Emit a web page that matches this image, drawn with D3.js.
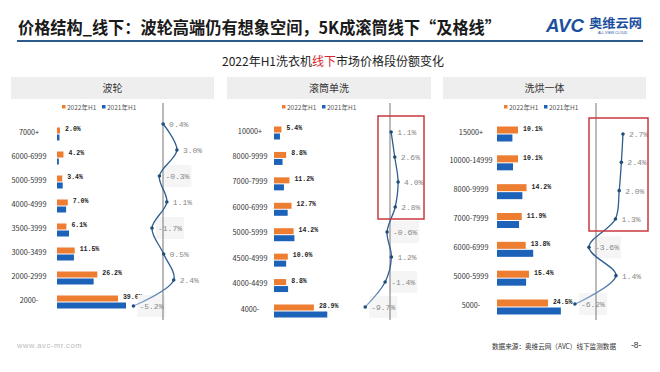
<!DOCTYPE html>
<html lang="zh">
<head>
<meta charset="utf-8">
<style>
  body { margin: 0; background: #fff; }
  svg { display: block; }
</style>
</head>
<body>
<script src="https://cdn.jsdelivr.net/npm/d3@7/dist/d3.min.js"></script>
<script>
// ---- data ----
var seriesNames = ["2022年H1", "2021年H1"];

var pulseCats = ["7000+", "6000-6999", "5000-5999", "4000-4999", "3500-3999", "3000-3499", "2000-2999", "2000-"];
var pulse2022 = [2.0, 4.2, 3.4, 7.0, 6.1, 11.5, 26.2, 39.6];
var pulseChange = [0.4, 3.0, -0.3, 1.1, -1.7, 0.5, 2.4, -5.2];

var drumCats = ["10000+", "8000-9999", "7000-7999", "6000-6999", "5000-5999", "4500-4999", "4000-4499", "4000-"];
var drum2022 = [5.4, 8.8, 11.2, 12.7, 14.2, 10.0, 8.8, 28.9];
var drumChange = [1.1, 2.6, 4.0, 2.8, -0.6, 1.2, -1.4, -9.7];

var dryerCats = ["15000+", "10000-14999", "8000-9999", "7000-7999", "6000-6999", "5000-5999", "5000-"];
var dryer2022 = [10.1, 10.1, 14.2, 11.9, 13.8, 15.4, 24.5];
var dryerChange = [2.7, 2.4, 2.0, 1.3, -3.6, 1.4, -6.2];

// ---- layout ----
var width = 660, height = 372;
var CJK = "'Noto Sans CJK SC','Noto Sans',sans-serif";
var MONO = "'Liberation Mono','DejaVu Sans Mono',monospace";
var ORANGE = "#ed7d31", BLUE = "#1c62b9";

var panels = [
  {title: "波轮", cats: pulseCats, v22: pulse2022, chg: pulseChange,
   hx: 11, hw: 203, legX: 62, catX: 29, barRange: [57, 211], catY: [132, 300], barH: 6,
   lineY: [124, 306], chgRange: [108, 187.5], axisX: 163, box: null},
  {title: "滚筒单洗", cats: drumCats, v22: drum2022, chg: drumChange,
   hx: 227, hw: 204, legX: 282, catX: 250, barRange: [274, 412], catY: [131, 309], barH: 6,
   lineY: [132, 307], chgRange: [364.5, 400.5], axisX: 390, box: [378, 424]},
  {title: "洗烘一体", cats: dryerCats, v22: dryer2022, chg: dryerChange,
   hx: 443, hw: 203, legX: 504, catX: 471, barRange: [497, 705], catY: [132, 305], barH: 7,
   lineY: [134, 304], chgRange: [554.4, 635.4], axisX: 596, box: [589, 648]}
];

var svg = d3.select("body").append("svg")
    .attr("width", width)
    .attr("height", height);

svg.append("rect").attr("width", width).attr("height", height).attr("fill", "#fff");

// title
svg.append("text")
    .attr("x", 18).attr("y", 34)
    .attr("font-family", CJK).attr("font-size", 16.5).attr("font-weight", "bold")
    .attr("fill", "#1a1a1a")
    .attr("textLength", 483).attr("lengthAdjust", "spacingAndGlyphs")
    .text("价格结构_线下：波轮高端仍有想象空间，5K成滚筒线下“及格线”");

svg.append("line")
    .attr("x1", 17).attr("x2", 643).attr("y1", 41).attr("y2", 41)
    .attr("stroke", "#2c5b8c").attr("stroke-width", 2);

// logo
svg.append("text")
    .attr("x", 546).attr("y", 32)
    .attr("font-family", "'Liberation Sans',sans-serif").attr("font-size", 19)
    .attr("font-weight", "bold").attr("font-style", "italic")
    .attr("fill", "#1b4f9e").attr("textLength", 38).attr("lengthAdjust", "spacingAndGlyphs")
    .text("AVC");
svg.append("text")
    .attr("x", 589).attr("y", 28)
    .attr("font-family", CJK).attr("font-size", 12.5).attr("font-weight", "bold")
    .attr("fill", "#1b4f9e").attr("textLength", 53).attr("lengthAdjust", "spacingAndGlyphs")
    .text("奥维云网");
svg.append("text")
    .attr("x", 598).attr("y", 34)
    .attr("font-family", "'Liberation Sans',sans-serif").attr("font-size", 3.5)
    .attr("fill", "#1b4f9e")
    .text("ALL VIEW CLOUD");

// subtitle
var sub = svg.append("text")
    .attr("x", 222).attr("y", 66)
    .attr("font-family", CJK).attr("font-size", 12).attr("fill", "#222")
    .attr("textLength", 222).attr("lengthAdjust", "spacingAndGlyphs");
sub.append("tspan").text("2022年H1洗衣机");
sub.append("tspan").attr("fill", "#d9262b").text("线下");
sub.append("tspan").text("市场价格段份额变化");

var defs = svg.append("defs");

panels.forEach(function (p, pi) {
    var g = svg.append("g");

    // header
    g.append("rect")
        .attr("x", p.hx).attr("y", 77).attr("width", p.hw).attr("height", 22)
        .attr("fill", "#eeeeee");
    g.append("text")
        .attr("x", p.hx + p.hw / 2).attr("y", 92)
        .attr("text-anchor", "middle")
        .attr("font-family", CJK).attr("font-size", 10).attr("fill", "#333")
        .text(p.title);

    // legend
    var leg = g.selectAll(".leg").data(seriesNames).enter().append("g")
        .attr("transform", function (d, i) { return "translate(" + (p.legX + i * 40) + ",108)"; });
    leg.append("rect").attr("x", 0).attr("y", -3).attr("width", 3.5).attr("height", 3.5)
        .attr("fill", function (d, i) { return i === 0 ? ORANGE : BLUE; });
    leg.append("text").attr("x", 5).attr("y", 1.5)
        .attr("font-family", CJK).attr("font-size", 6.5).attr("fill", "#555")
        .text(function (d) { return d; });

    var y = d3.scalePoint().domain(p.cats).range(p.catY);
    var x = d3.scaleLinear().domain([0, 100]).range(p.barRange);
    var yl = d3.scalePoint().domain(p.cats).range(p.lineY);
    var xc = d3.scaleLinear().domain([-10, 5]).range(p.chgRange);

    var rows = p.cats.map(function (c, i) {
        return {cat: c, v22: p.v22[i], v21: +(p.v22[i] - p.chg[i]).toFixed(1), chg: p.chg[i]};
    });

    // category labels
    g.selectAll(".cat").data(rows).enter().append("text")
        .attr("x", p.catX).attr("y", function (d) { return y(d.cat) + 2.5; })
        .attr("text-anchor", "middle")
        .attr("font-family", CJK).attr("font-size", 7.3).attr("fill", "#333")
        .text(function (d) { return d.cat; });

    // bars
    g.selectAll(".b22").data(rows).enter().append("rect")
        .attr("x", x(0)).attr("y", function (d) { return y(d.cat) - p.barH + 1.5; })
        .attr("width", function (d) { return x(d.v22) - x(0); })
        .attr("height", p.barH).attr("fill", ORANGE);
    g.selectAll(".b21").data(rows).enter().append("rect")
        .attr("x", x(0)).attr("y", function (d) { return y(d.cat) + 2.5; })
        .attr("width", function (d) { return x(d.v21) - x(0); })
        .attr("height", p.barH).attr("fill", BLUE);
    g.selectAll(".bl").data(rows).enter().append("text")
        .attr("x", function (d) { return x(d.v22) + 5; })
        .attr("y", function (d) { return y(d.cat) - 1; })
        .attr("font-family", MONO).attr("font-size", 6.5).attr("font-weight", "bold")
        .attr("fill", "#222")
        .text(function (d) { return d.v22.toFixed(1) + "%"; });

    // label backgrounds for negative changes
    g.selectAll(".lbg").data(rows.filter(function (d) { return d.chg < 0; })).enter().append("rect")
        .attr("x", function (d) { return xc(d.chg) + 4; })
        .attr("y", function (d) { return yl(d.cat) - 11; })
        .attr("width", 28).attr("height", 22)
        .attr("fill", "#f5f5f5");

    // axis line
    g.append("line")
        .attr("x1", p.axisX).attr("x2", p.axisX).attr("y1", 103).attr("y2", 320)
        .attr("stroke", "#8c8c8c").attr("stroke-width", 1.2);

    // change line
    var gid = "lg" + pi;
    var grad = defs.append("linearGradient").attr("id", gid)
        .attr("gradientUnits", "userSpaceOnUse")
        .attr("x1", 0).attr("x2", 0)
        .attr("y1", yl(p.cats[p.cats.length - 2]))
        .attr("y2", yl(p.cats[p.cats.length - 1]));
    grad.append("stop").attr("offset", 0).attr("stop-color", "#2d5d8f");
    grad.append("stop").attr("offset", 1).attr("stop-color", "#8fb0d3");

    var line = d3.line()
        .x(function (d) { return xc(d.chg); })
        .y(function (d) { return yl(d.cat); })
        .curve(d3.curveCatmullRom.alpha(0.5));
    g.append("path").datum(rows)
        .attr("d", line).attr("fill", "none")
        .attr("stroke", "url(#" + gid + ")").attr("stroke-width", 1.3);

    g.selectAll(".dot").data(rows).enter().append("circle")
        .attr("cx", function (d) { return xc(d.chg); })
        .attr("cy", function (d) { return yl(d.cat); })
        .attr("r", 1.8).attr("fill", "#1f4e79");

    g.selectAll(".cl").data(rows).enter().append("text")
        .attr("x", function (d) { return xc(d.chg) + 6; })
        .attr("y", function (d) { return yl(d.cat) + 3; })
        .attr("font-family", MONO).attr("font-size", 8).attr("fill", "#888")
        .text(function (d) { return d.chg.toFixed(1) + "%"; });

    // highlight box
    if (p.box) {
        var top = yl(p.cats[0]) - 16, bot = yl(p.cats[3]) + 12;
        g.append("rect")
            .attr("x", p.box[0]).attr("y", top)
            .attr("width", p.box[1] - p.box[0]).attr("height", bot - top)
            .attr("fill", "none").attr("stroke", "#c8383f").attr("stroke-width", 1.5);
    }
});

// footer
svg.append("text")
    .attr("x", 17).attr("y", 348)
    .attr("font-family", "'Liberation Sans',sans-serif").attr("font-size", 7.5)
    .attr("fill", "#bbb").attr("letter-spacing", 0.6)
    .text("www.avc-mr.com");
svg.append("text")
    .attr("x", 492).attr("y", 349)
    .attr("font-family", CJK).attr("font-size", 7).attr("fill", "#333")
    .attr("textLength", 124).attr("lengthAdjust", "spacingAndGlyphs")
    .text("数据来源：奥维云网（AVC）线下监测数据");
svg.append("text")
    .attr("x", 631).attr("y", 348)
    .attr("font-family", "'Liberation Sans',sans-serif").attr("font-size", 8.5).attr("fill", "#333")
    .text("-8-");
</script>
</body>
</html>
